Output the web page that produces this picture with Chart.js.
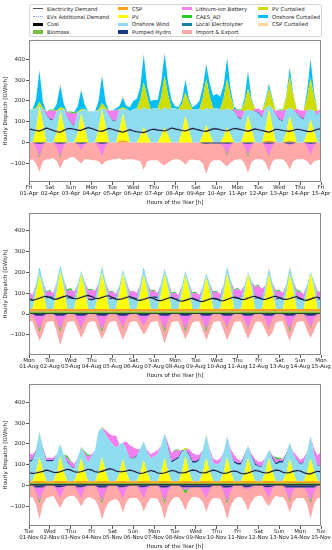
<!DOCTYPE html>
<html><head><meta charset="utf-8">
<script src="https://cdn.jsdelivr.net/npm/chart.js@4.4.1/dist/chart.umd.min.js"></script>
<style>
body{margin:0;width:332px;height:550px;background:#fff;position:relative;overflow:hidden;font-family:"DejaVu Sans",sans-serif;}
canvas{position:absolute;left:0;}
#legend{position:absolute;left:29px;top:4px;width:293px;height:33px;border:1px solid #d6d6d6;border-radius:2px;box-sizing:border-box;}
.lt{position:absolute;font-size:5.3px;line-height:6px;white-space:nowrap;color:#222;}
.lp{position:absolute;width:10px;height:3.5px;}
.ll{position:absolute;width:10px;height:0;}
</style></head>
<body>
<div id="legend"></div>
<canvas id="c1" width="332" height="170" style="top:36px"></canvas>
<canvas id="c2" width="332" height="170" style="top:209px"></canvas>
<canvas id="c3" width="332" height="170" style="top:380px"></canvas>
<script>
// ---------- categories / ticks ----------
const hours = Array.from({length:85},(_,i)=>i*4); // 4-hourly sampling grid, 0..336 h
const dayTickHours = [0,24,48,72,96,120,144,168,192,216,240,264,288,312,336];
const yTickVals = [-100,0,100,200,300,400];
const aprDays = ["Fri","Sat","Sun","Mon","Tue","Wed","Thu","Fri","Sat","Sun","Mon","Tue","Wed","Thu","Fri"];
const aprDates = ["01-Apr","02-Apr","03-Apr","04-Apr","05-Apr","06-Apr","07-Apr","08-Apr","09-Apr","10-Apr","11-Apr","12-Apr","13-Apr","14-Apr","15-Apr"];
const augDays = ["Mon","Tue","Wed","Thu","Fri","Sat","Sun","Mon","Tue","Wed","Thu","Fri","Sat","Sun","Mon"];
const augDates = ["01-Aug","02-Aug","03-Aug","04-Aug","05-Aug","06-Aug","07-Aug","08-Aug","09-Aug","10-Aug","11-Aug","12-Aug","13-Aug","14-Aug","15-Aug"];
const novDays = ["Tue","Wed","Thu","Fri","Sat","Sun","Mon","Tue","Wed","Thu","Fri","Sat","Sun","Mon","Tue"];
const novDates = ["01-Nov","02-Nov","03-Nov","04-Nov","05-Nov","06-Nov","07-Nov","08-Nov","09-Nov","10-Nov","11-Nov","12-Nov","13-Nov","14-Nov","15-Nov"];
const legendLabels = ["Electricity Demand","EVs Additional Demand","Coal","Biomass","CSP","PV","Onshore Wind","Pumped Hydro","Lithium-ion Battery","CAES_AD","Local Electrolyzer","Import & Export","PV Curtailed","Onshore Curtailed","CSP Curtailed"];

// ---------- APRIL (values every 4 h: 0,4,8,12,16,20 per day) ----------
const aprCsp = [
0,0,0,0,0,0, 0,0,0,0,0,0, 0,0,0,0,0,0, 0,0,0,5,0,0, 0,0,8,10,8,0, 0,0,0,0,0,0, 0,0,0,0,0,0,
0,0,0,0,0,0, 0,0,0,0,0,0, 0,0,0,0,0,0, 0,0,0,0,0,0, 0,0,8,10,8,0, 0,0,5,8,5,0, 0,0,0,0,0,0, 0];
const aprPV = [
0,0,60,175,90,0, 0,0,50,150,80,0, 0,0,45,140,70,0, 0,0,60,155,80,0, 0,0,50,130,60,0, 0,0,30,75,35,0, 0,0,30,75,35,0,
0,0,50,130,60,0, 0,0,35,85,40,0, 0,0,30,75,35,0, 0,0,50,130,65,0, 0,0,55,150,70,0, 0,0,45,120,60,0, 0,0,45,110,55,0, 0];
const aprWind = [
160,160,100,0,70,130, 110,105,100,5,80,120, 95,75,100,10,90,150, 150,150,90,5,80,130, 105,100,100,20,90,150, 160,165,125,95,125,160, 165,165,125,95,125,165,
165,160,105,30,95,160, 160,160,120,80,120,165, 165,160,125,90,120,150, 120,110,100,30,85,150, 140,120,100,20,85,130, 110,100,105,40,90,140, 120,110,110,50,95,130, 160];
const aprPhs = [
0,0,0,0,0,3, 4,4,0,0,0,3, 4,4,0,0,0,0, 0,0,0,0,0,3, 4,4,0,0,0,0, 0,0,0,0,0,0, 0,0,0,0,0,0,
0,0,0,0,0,0, 0,0,0,0,0,0, 0,0,0,0,0,3, 4,4,0,0,0,3, 4,4,0,0,0,3, 4,4,0,0,0,3, 4,4,0,0,0,3, 0];
const aprLi = [
0,0,0,0,0,15, 40,45,0,0,0,20, 45,60,0,0,0,0, 0,0,0,0,0,20, 45,50,0,0,0,0, 0,0,0,0,0,0, 0,0,0,0,0,0,
0,0,0,0,0,0, 0,0,0,0,0,0, 0,0,0,0,0,10, 30,40,0,0,0,10, 20,30,0,0,0,20, 40,50,0,0,0,20, 30,40,0,0,0,20, 0];
const aprCaes = [
0,0,0,0,0,0, 5,5,0,0,0,5, 5,8,0,0,0,0, 0,0,0,0,0,0, 0,0,0,0,0,0, 0,0,0,0,0,0, 0,0,0,0,0,0,
0,0,0,0,0,0, 0,0,0,0,0,0, 0,0,0,0,0,0, 5,5,0,0,0,0, 0,0,0,0,0,0, 5,5,0,0,0,0, 0,0,0,0,0,0, 0];
const aprPvCurt = [
0,0,5,20,5,0, 0,0,5,15,5,0, 0,0,3,10,3,0, 0,0,8,25,8,0, 0,0,3,10,3,0, 0,0,50,120,60,0, 0,0,60,150,70,0,
0,0,30,80,40,0, 0,0,60,140,60,0, 0,0,60,140,70,0, 0,0,40,100,50,0, 0,0,30,80,40,0, 0,0,60,150,70,0, 0,0,60,150,70,0, 0];
const aprWindCurt = [
0,0,40,150,30,0, 0,0,30,105,20,0, 0,0,25,90,20,0, 0,0,40,130,30,0, 0,10,15,45,15,20, 40,45,60,130,50,40, 40,40,70,105,60,40,
10,10,20,60,15,10, 20,40,50,70,60,60, 70,60,60,100,30,10, 0,0,20,80,10,0, 0,0,10,20,10,0, 0,0,10,40,10,0, 0,0,30,90,20,0, 0];
const aprCspCurt = [
0,0,3,9,5,0, 0,0,3,10,5,0, 0,0,3,10,5,0, 0,0,3,10,5,0, 0,0,3,10,5,0, 0,0,3,10,5,0, 0,0,3,10,5,0,
0,0,3,10,5,0, 0,0,3,10,5,0, 0,0,3,10,5,0, 0,0,3,10,5,0, 0,0,3,10,5,0, 0,0,3,10,5,0, 0,0,3,10,5,0, 0];
const aprExport = [
-85,-80,-100,-140,-90,-80, -80,-75,-90,-125,-85,-80, -70,-70,-85,-100,-80,-80, -85,-85,-90,-108,-90,-85, -80,-80,-75,-85,-80,-80, -80,-85,-90,-130,-90,-85, -85,-85,-100,-110,-95,-85,
-80,-80,-90,-105,-85,-80, -85,-85,-100,-150,-100,-85, -85,-85,-100,-115,-95,-85, -80,-80,-100,-145,-95,-80, -80,-80,-95,-138,-90,-80, -80,-80,-95,-130,-90,-80, -80,-80,-90,-110,-90,-85, -80];
const aprPhsCh = [
0,0,-4,-5,-4,0, 0,0,-4,-5,-4,0, 0,0,-4,-5,-4,0, 0,0,-4,-5,-4,0, 0,0,0,0,0,0, 0,0,0,0,0,0, 0,0,0,0,0,0,
0,0,0,0,0,0, 0,0,-4,-5,-4,-4, -4,-4,-4,-5,-4,0, 0,0,-4,-5,-4,0, 0,0,-4,-5,-4,0, 0,0,-4,-5,-4,0, 0,0,-4,-5,-4,0, 0];
const aprLiCh = [
0,0,-20,-60,-10,0, 0,0,-20,-60,-10,0, 0,0,-5,-30,-5,0, 0,0,-20,-60,-10,0, 0,0,0,0,0,0, 0,0,0,0,0,0, 0,0,0,0,0,0,
0,0,0,0,0,0, 0,0,0,0,0,0, 0,0,-15,-50,-10,0, 0,0,-15,-55,-10,0, 0,0,-20,-60,-10,0, 0,0,0,-10,0,0, 0,0,-15,-55,-10,0, 0];
const aprCaesCh = [
0,0,0,-8,0,0, 0,0,0,-8,0,0, 0,0,0,0,0,0, 0,0,0,0,0,0, 0,0,0,0,0,0, 0,0,0,0,0,0, 0,0,0,0,0,0,
0,0,0,0,0,0, 0,0,0,0,0,0, 0,0,0,-8,0,0, 0,0,0,-8,0,0, 0,0,0,-5,0,0, 0,0,0,0,0,0, 0,0,0,0,0,0, 0];
const aprDemand = [
66,62,58,55,62,70, 64,58,52,50,58,66, 68,64,60,58,66,72, 68,62,56,54,60,68, 64,58,54,50,56,62, 56,52,50,48,54,62, 64,60,58,56,62,70,
66,62,58,56,62,68, 64,60,56,54,60,66, 66,62,58,56,62,68, 66,62,58,54,60,66, 62,58,54,50,56,64, 62,58,56,54,58,64, 62,58,54,52,58,64, 66];
const aprEV = [
70,66,62,59,66,74, 68,62,56,54,62,70, 72,68,64,62,70,76, 72,66,60,58,64,72, 68,62,58,54,60,66, 60,56,54,52,58,66, 68,64,62,60,66,74,
70,66,62,60,66,72, 68,64,60,58,64,70, 70,66,62,60,66,72, 70,66,62,58,64,70, 66,62,58,54,60,68, 66,62,60,58,62,68, 66,62,58,56,62,68, 70];

// ---------- AUGUST ----------
const augCoal = [
4,4,4,4,4,4, 4,4,4,4,4,4, 4,4,4,4,4,4, 4,4,4,4,4,4, 4,4,4,4,4,4, 4,4,4,4,4,4, 4,4,4,4,4,4,
4,4,4,4,4,4, 4,4,4,4,4,4, 4,4,4,4,4,4, 4,4,4,4,4,4, 4,4,4,4,4,4, 4,4,4,4,4,4, 4,4,4,4,4,4, 4];
const augBio = [
8,8,8,8,8,8, 8,8,8,8,8,8, 8,8,8,8,8,8, 8,8,8,8,8,8, 8,8,8,8,8,8, 8,8,8,8,8,8, 8,8,8,8,8,8,
8,8,8,8,8,8, 8,8,8,8,8,8, 8,8,8,8,8,8, 8,8,8,8,8,8, 8,8,8,8,8,8, 8,8,8,8,8,8, 8,8,8,8,8,8, 8];
const augCsp = [
12,12,12,12,12,12, 12,12,12,12,12,12, 12,12,12,12,12,12, 12,12,12,12,12,12, 12,12,12,12,12,12, 12,12,12,12,12,12, 12,12,12,12,12,12,
12,12,12,12,12,12, 12,12,12,12,12,12, 12,12,12,12,12,12, 12,12,12,12,12,12, 12,12,12,12,12,12, 12,12,12,12,12,12, 12,12,12,12,12,12, 12];
const augPV = [
0,0,75,165,90,0, 0,0,85,185,100,0, 0,0,75,170,95,0, 0,0,80,175,95,0, 0,0,75,170,95,0, 0,0,75,165,90,0, 0,0,75,170,95,0,
0,0,75,165,90,0, 0,0,70,155,85,0, 0,0,75,170,95,0, 0,0,75,170,95,0, 0,0,75,165,90,0, 0,0,75,170,95,0, 0,0,80,175,95,0, 0];
const augWind = [
45,40,45,25,45,50, 55,50,50,28,45,50, 50,45,45,14,40,45, 40,45,45,30,40,45, 50,45,40,20,40,50, 50,45,45,25,45,50, 55,50,50,25,45,50,
45,40,40,20,40,45, 40,35,40,18,40,45, 45,40,45,35,45,50, 50,45,40,10,40,50, 50,45,40,30,40,45, 50,45,45,30,45,50, 45,40,40,6,40,45, 45];
const augPhs = [
8,8,0,0,0,6, 8,8,0,0,0,6, 8,8,0,0,0,6, 8,8,0,0,0,6, 8,8,0,0,0,6, 8,8,0,0,0,6, 8,8,0,0,0,6,
8,8,0,0,0,6, 8,8,0,0,0,6, 8,8,0,0,0,6, 8,8,0,0,0,6, 8,8,0,0,0,6, 8,8,0,0,0,6, 8,8,0,0,0,6, 8];
const augLi = [
30,20,0,0,0,25, 25,20,0,0,0,30, 35,30,0,0,0,40, 45,35,0,0,0,30, 25,20,0,0,0,25, 30,25,0,0,0,30, 25,20,0,0,0,20,
25,20,0,0,0,25, 30,25,0,0,0,30, 30,25,0,0,0,35, 40,35,0,0,0,50, 55,45,0,0,0,35, 30,25,0,0,0,30, 30,25,0,0,0,30, 30];
const augCaes = [
0,0,0,0,0,5, 5,0,0,0,0,8, 8,0,0,0,0,5, 5,0,0,0,0,5, 5,0,0,0,0,5, 0,0,0,0,0,5, 5,0,0,0,0,5,
5,0,0,0,0,5, 5,0,0,0,0,5, 5,0,0,0,0,5, 5,0,0,0,0,5, 5,0,0,0,0,5, 5,0,0,0,0,8, 5,0,0,0,0,5, 0];
const augPvCurt = [
0,0,0,0,0,0, 0,0,0,0,0,0, 0,0,0,0,0,0, 0,0,0,0,0,0, 0,0,0,0,0,0, 0,0,0,0,0,0, 0,0,0,0,0,0,
0,0,0,0,0,0, 0,0,0,0,0,0, 0,0,0,0,0,0, 0,0,0,0,0,0, 0,0,0,0,0,0, 0,0,0,0,0,0, 0,0,0,0,0,0, 0];
const augWindCurt = [
0,0,0,10,0,0, 0,0,0,0,0,0, 0,0,0,0,0,0, 0,0,0,0,0,0, 0,0,0,0,0,0, 0,0,0,10,0,0, 0,0,0,0,0,0,
0,0,0,0,0,0, 0,0,0,0,0,0, 0,0,0,0,0,0, 0,0,0,0,0,0, 0,0,0,0,0,0, 0,0,0,0,0,0, 0,0,0,0,0,0, 0];
const augCspCurt = [
0,0,0,0,0,0, 0,0,0,0,0,0, 0,0,0,0,0,0, 0,0,0,10,0,0, 0,0,0,0,0,0, 0,0,0,0,0,0, 0,0,0,0,0,0,
0,0,0,0,0,0, 0,0,0,0,0,0, 0,0,0,0,0,0, 0,0,0,0,0,0, 0,0,0,10,0,0, 0,0,0,10,0,0, 0,0,0,0,0,0, 0];
const augExport = [
-35,-35,-80,-130,-90,-40, -35,-35,-85,-150,-90,-40, -35,-35,-75,-115,-80,-40, -35,-35,-80,-120,-85,-40, -35,-35,-80,-125,-85,-40, -35,-35,-70,-100,-75,-40, -35,-35,-85,-140,-90,-40,
-35,-35,-80,-120,-85,-40, -35,-35,-80,-125,-85,-40, -35,-35,-80,-125,-85,-40, -35,-35,-80,-120,-85,-40, -35,-40,-80,-110,-90,-40, -35,-35,-85,-130,-85,-40, -35,-35,-80,-115,-80,-40, -35];
const augPhsCh = [
0,0,-8,-8,-8,0, 0,0,-8,-8,-8,0, 0,0,-8,-8,-8,0, 0,0,-8,-8,-8,0, 0,0,-8,-8,-8,0, 0,0,-8,-8,-8,0, 0,0,-8,-8,-8,0,
0,0,-8,-8,-8,0, 0,0,-8,-8,-8,0, 0,0,-8,-8,-8,0, 0,0,-8,-8,-8,0, 0,0,-8,-8,-8,0, 0,0,-8,-8,-8,0, 0,0,-8,-8,-8,0, 0];
const augLiCh = [
0,0,-25,-65,-20,0, 0,0,-25,-65,-20,0, 0,0,-25,-60,-20,0, 0,0,-25,-65,-20,0, 0,0,-20,-55,-15,0, 0,0,-20,-50,-15,0, 0,0,-25,-65,-20,0,
0,0,-25,-65,-20,0, 0,0,-25,-65,-20,0, 0,0,-20,-55,-15,0, 0,0,-20,-60,-15,0, 0,0,-20,-60,-15,0, 0,0,-25,-65,-20,0, 0,0,-20,-55,-15,0, 0];
const augCaesCh = [
0,0,0,-12,0,0, 0,0,0,-12,0,0, 0,0,0,-5,0,0, 0,0,0,-12,0,0, 0,0,0,-5,0,0, 0,0,0,0,0,0, 0,0,0,-12,0,0,
0,0,0,-12,0,0, 0,0,0,-12,0,0, 0,0,0,-5,0,0, 0,0,0,-5,0,0, 0,0,0,-5,0,0, 0,0,0,-12,0,0, 0,0,0,-5,0,0, 0];
const augDemand = [
72,66,70,76,82,86, 80,72,72,78,84,88, 82,74,74,80,86,90, 84,76,74,80,86,88, 80,72,70,74,80,84, 76,68,66,70,76,80, 74,66,64,70,76,80,
72,64,62,66,72,76, 70,62,60,66,72,76, 72,64,64,70,76,82, 78,70,70,76,82,86, 80,72,70,76,82,86, 80,72,70,74,80,84, 76,68,66,72,78,82, 74];
const augEV = [
76,70,74,80,87,92, 85,76,76,82,89,94, 87,78,78,84,91,96, 89,80,78,84,91,94, 85,76,74,78,85,90, 81,72,70,74,81,86, 79,70,68,74,81,86,
77,68,66,70,77,82, 75,66,64,70,77,82, 77,68,68,74,81,88, 83,74,74,80,87,92, 85,76,74,80,87,92, 85,76,74,78,85,90, 81,72,70,76,83,88, 78];

// ---------- NOVEMBER ----------
const novCoal = [
6,6,6,6,6,6, 6,6,6,6,6,6, 6,6,6,6,6,6, 6,6,6,6,6,6, 6,6,6,6,6,6, 6,6,6,6,6,6, 6,6,6,6,6,6,
6,6,6,6,6,6, 6,6,6,6,6,6, 6,6,6,6,6,6, 6,6,6,6,6,6, 6,6,6,6,6,6, 6,6,6,6,6,6, 6,6,6,6,6,6, 6];
const novBio = [
6,6,6,6,6,6, 6,6,6,6,6,6, 6,6,6,6,6,6, 6,6,6,6,6,6, 6,6,6,6,6,6, 6,6,6,6,6,6, 6,6,6,6,6,6,
6,6,6,6,6,6, 6,6,6,6,6,6, 6,6,6,6,6,6, 6,6,6,6,6,6, 6,6,6,6,6,6, 6,6,6,6,6,6, 6,6,6,6,6,6, 6];
const novCsp = [
8,8,10,10,10,8, 8,8,10,10,10,8, 8,8,10,10,10,8, 8,8,10,10,10,8, 8,8,10,10,10,8, 8,8,10,10,10,8, 8,8,10,10,10,8,
8,8,10,10,10,8, 8,8,10,10,10,8, 8,8,10,10,10,8, 8,8,10,10,10,8, 8,8,10,10,10,8, 8,8,10,10,10,8, 8,8,10,10,10,8, 8];
const novPV = [
0,0,40,115,45,0, 0,0,40,120,45,0, 0,0,40,110,45,0, 0,0,40,115,45,0, 0,0,35,105,40,0, 0,0,35,100,40,0, 0,0,40,110,45,0,
0,0,40,120,45,0, 0,0,40,110,45,0, 0,0,40,115,45,0, 0,0,40,110,45,0, 0,0,40,110,45,0, 0,0,35,105,40,0, 0,0,40,110,45,0, 0];
const novWind = [
90,100,100,120,110,95, 95,95,90,58,80,90, 70,60,70,55,80,90, 120,150,200,140,180,200, 180,160,140,80,110,110, 110,120,120,90,100,110, 120,130,130,120,110,90,
100,110,100,30,80,90, 90,100,110,110,100,90, 80,90,100,100,90,90, 80,80,80,60,70,80, 70,70,70,40,60,80, 90,90,90,80,90,100, 80,90,100,105,80,70, 80];
const novPhs = [
8,8,6,0,6,8, 8,8,0,0,0,4, 4,4,0,0,0,0, 0,0,0,0,0,0, 0,0,0,0,0,4, 4,4,0,0,0,0, 0,0,0,0,8,8,
8,8,6,0,8,8, 8,8,0,0,0,0, 0,0,0,0,0,8, 8,8,6,0,6,8, 4,4,0,0,8,8, 8,8,6,0,0,4, 4,4,0,0,0,4, 4];
const novLi = [
40,20,0,0,0,10, 10,10,0,0,0,20, 20,20,0,0,10,30, 10,0,0,0,20,30, 40,60,0,0,40,60, 50,30,0,0,10,20, 20,20,0,0,20,40,
40,30,0,0,20,40, 30,20,0,0,10,20, 20,20,0,0,20,30, 20,10,0,0,10,20, 20,20,0,0,10,20, 10,10,0,0,10,20, 20,20,0,0,30,50, 60];
const novCaes = [
0,0,0,0,0,0, 0,0,0,0,0,10, 5,0,0,0,8,8, 0,0,0,0,0,0, 0,0,0,0,0,0, 0,0,0,0,0,0, 0,0,0,0,0,0,
5,5,0,0,0,0, 0,0,0,0,0,0, 0,0,0,0,0,0, 0,0,0,0,0,0, 0,0,0,0,0,8, 5,0,0,0,0,0, 0,0,0,0,0,0, 0];
const novPvCurt = [
0,0,0,5,0,0, 0,0,0,0,0,0, 0,0,0,0,0,0, 0,0,0,5,0,0, 0,0,0,0,0,0, 0,0,0,0,0,0, 0,0,0,0,0,0,
0,0,0,10,0,0, 0,0,0,5,0,0, 0,0,0,0,0,0, 0,0,0,0,0,0, 0,0,0,0,0,0, 0,0,0,0,0,0, 0,0,0,0,0,0, 0];
const novWindCurt = [
0,0,0,0,0,0, 0,0,0,0,0,0, 0,0,0,0,0,0, 0,0,0,0,0,0, 0,0,0,0,0,0, 0,0,0,0,0,0, 0,0,0,0,0,0,
0,0,0,0,0,0, 0,0,0,0,0,0, 0,0,0,0,0,0, 0,0,0,0,0,0, 0,0,0,0,0,0, 0,0,0,0,0,0, 0,0,0,0,0,0, 0];
const novCspCurt = [
0,0,0,0,0,0, 0,0,0,0,0,0, 0,0,0,0,0,0, 0,0,0,0,0,0, 0,0,0,0,0,0, 0,0,0,0,0,0, 0,0,0,0,0,0,
0,0,0,0,0,0, 0,0,0,0,0,0, 0,0,0,0,0,0, 0,0,0,0,0,0, 0,0,0,0,0,0, 0,0,0,0,0,0, 0,0,0,0,0,0, 0];
const novExport = [
-60,-55,-90,-163,-90,-60, -55,-50,-80,-110,-70,-55, -50,-50,-70,-100,-70,-55, -60,-70,-100,-163,-110,-80, -70,-65,-80,-130,-80,-60, -60,-60,-80,-125,-85,-60, -60,-65,-100,-163,-100,-70,
-55,-55,-80,-120,-75,-55, -55,-60,-80,-125,-80,-60, -60,-65,-100,-163,-100,-70, -55,-55,-80,-120,-80,-55, -50,-50,-80,-100,-70,-50, -55,-55,-80,-130,-80,-60, -60,-60,-90,-160,-90,-60, -60];
const novPhsCh = [
0,0,-10,-10,-8,0, 0,0,-8,-8,-5,0, 0,0,-8,-8,-5,0, 0,0,-10,-10,-10,0, 0,0,-8,-8,-5,0, 0,0,-8,-8,-5,0, 0,0,-10,-10,-8,0,
0,0,-8,-8,-8,-8, -8,-8,-8,-8,-8,0, 0,0,-10,-10,-8,0, 0,0,-8,-8,-5,0, 0,0,-8,-8,-5,0, 0,0,-10,-10,-10,-10, -10,-10,-10,-10,-10,0, 0];
const novLiCh = [
0,0,-20,-65,-20,0, 0,0,-20,-55,-10,0, 0,0,-20,-55,-10,0, 0,0,-20,-65,-20,0, 0,0,-20,-55,-10,0, 0,0,-20,-55,-10,0, 0,0,-20,-65,-20,0,
0,0,-5,-15,-5,0, 0,0,-20,-55,-10,0, 0,0,-20,-65,-20,0, 0,0,-5,-10,-5,0, 0,0,-20,-55,-10,0, 0,0,-20,-60,-10,0, 0,0,-20,-65,-20,0, 0];
const novCaesCh = [
0,0,0,-10,0,0, 0,0,0,0,0,0, 0,0,0,0,0,0, 0,0,0,-10,0,0, 0,0,0,0,0,0, 0,0,0,0,0,0, 0,0,0,-10,0,0,
0,0,0,-15,0,0, 0,0,0,0,0,0, 0,0,0,-10,0,0, 0,0,0,0,0,0, 0,0,0,0,0,0, 0,0,0,-8,0,0, 0,0,0,-10,0,0, 0];
const novDemand = [
62,58,60,64,68,74, 70,64,62,66,72,78, 74,66,64,66,72,78, 74,66,64,68,74,80, 78,70,66,66,70,74, 70,62,58,60,66,72, 68,60,58,60,66,72,
70,62,60,62,68,74, 72,64,60,62,68,74, 70,62,58,60,66,70, 66,58,56,60,66,72, 70,64,60,62,68,74, 72,64,60,62,68,72, 70,62,56,56,62,68, 66];
const novEV = [
66,62,64,68,72,78, 74,68,66,70,76,82, 78,70,68,70,76,82, 78,70,68,72,78,84, 82,74,70,70,74,78, 74,66,62,64,70,76, 72,64,62,64,70,76,
74,66,64,66,72,78, 76,68,64,66,72,78, 74,66,62,64,70,74, 70,62,60,64,70,76, 74,68,64,66,72,78, 76,68,64,66,72,76, 74,66,60,60,66,72, 70];

// ---------- styles ----------
const colors = {
  demand:'#14182a', ev:'#8f9cff', coal:'#000000', bio:'#77c13a', csp:'#ff9f1a', pv:'#ffff00', wind:'#8edcf0',
  phs:'#1c3a86', li:'#f27ef0', caes:'#22d022', elec:'#167f9f', imp:'#ffa8a8', pvCurt:'#cfdd00', windCurt:'#00bff8', cspCurt:'#ffd699'
};
const legendKeys = ['demand','ev','coal','bio','csp','pv','wind','phs','li','caes','elec','imp','pvCurt','windCurt','cspCurt'];

const panels = [
  {id:'c1', days:aprDays, dates:aprDates, min:-189, max:491,
   pos:{coal:null,bio:null,csp:aprCsp,pv:aprPV,wind:aprWind,phs:aprPhs,li:aprLi,caes:aprCaes,pvCurt:aprPvCurt,windCurt:aprWindCurt,cspCurt:aprCspCurt},
   imp:aprExport, neg:{phs:aprPhsCh,li:aprLiCh,caes:aprCaesCh}, demand:aprDemand, ev:aprEV},
  {id:'c2', days:augDays, dates:augDates, min:-197, max:485,
   pos:{coal:augCoal,bio:augBio,csp:augCsp,pv:augPV,wind:augWind,phs:augPhs,li:augLi,caes:augCaes,pvCurt:augPvCurt,windCurt:augWindCurt,cspCurt:augCspCurt},
   imp:augExport, neg:{phs:augPhsCh,li:augLiCh,caes:augCaesCh}, demand:augDemand, ev:augEV},
  {id:'c3', days:novDays, dates:novDates, min:-195, max:487,
   pos:{coal:novCoal,bio:novBio,csp:novCsp,pv:novPV,wind:novWind,phs:novPhs,li:novLi,caes:novCaes,pvCurt:novPvCurt,windCurt:novWindCurt,cspCurt:novCspCurt},
   imp:novExport, neg:{phs:novPhsCh,li:novLiCh,caes:novCaesCh}, demand:novDemand, ev:novEV}
];

// ---------- legend ----------
(function(){
  const lg = document.getElementById('legend');
  const colX = [3, 88, 152, 228];
  const rowY = [3.7, 11.5, 19.3, 27];
  legendKeys.forEach((k,i)=>{
    const c = Math.floor(i/4), r = i%4;
    const x = colX[c], y = rowY[r];
    let h;
    if (k==='demand' || k==='ev') {
      h = document.createElement('div'); h.className='ll';
      h.style.left=x+'px'; h.style.top=(y-0.5)+'px';
      h.style.borderTop = k==='demand' ? '1px solid #555' : '1px dotted '+colors.ev;
    } else {
      h = document.createElement('div'); h.className='lp';
      h.style.left=x+'px'; h.style.top=(y-1.75)+'px'; h.style.background=colors[k];
    }
    lg.appendChild(h);
    const t = document.createElement('div'); t.className='lt';
    t.textContent = legendLabels[i];
    t.style.left=(x+14)+'px'; t.style.top=(y-3)+'px';
    lg.appendChild(t);
  });
})();

// ---------- charts ----------
const boxPlugin = {id:'box', afterDraw(c){const a=c.chartArea,ctx=c.ctx;ctx.save();ctx.strokeStyle='#8a8a8a';ctx.lineWidth=1;
  ctx.strokeRect(Math.round(a.left)+0.5,Math.round(a.top)+0.5,Math.round(a.right-a.left)-1,Math.round(a.bottom-a.top)-1);ctx.restore();}};
const posOrder = ['coal','bio','csp','pv','wind','phs','li','caes','pvCurt','windCurt','cspCurt'];
const negOrder = ['phs','li','caes'];
const FONT = {family:'"DejaVu Sans", sans-serif', size:5.5};

function pts(arr){ return hours.map((h,i)=>({x:h,y:arr[i]})); }

panels.forEach(p=>{
  const ds = [];
  ds.push({data:pts(p.imp), backgroundColor:colors.imp, borderWidth:0, pointRadius:0, fill:'origin', order:20});
  let cum = hours.map(()=>0), first = true;
  posOrder.forEach(k=>{
    const a = p.pos[k]; if(!a) return;
    cum = cum.map((c,i)=>c+a[i]);
    ds.push({data:pts(cum), backgroundColor:colors[k], borderColor:colors[k], borderWidth:0, pointRadius:0, fill: first?'origin':'-1', order:10});
    first = false;
  });
  let ncum = hours.map(()=>0); first = true;
  negOrder.forEach(k=>{
    const a = p.neg[k]; if(!a) return;
    ncum = ncum.map((c,i)=>c+a[i]);
    ds.push({data:pts(ncum), backgroundColor:colors[k], borderWidth:0, pointRadius:0, fill: first?'origin':'-1', order:5});
    first = false;
  });
  ds.push({data:pts(p.ev), borderColor:colors.ev, borderWidth:0.9, borderDash:[1.2,1.2], pointRadius:0, fill:false, order:1});
  ds.push({data:pts(p.demand), borderColor:colors.demand, borderWidth:1.1, pointRadius:0, fill:false, order:0});

  new Chart(document.getElementById(p.id), {
    type:'line',
    data:{datasets:ds},
    plugins:[boxPlugin],
    options:{
      responsive:false, animation:false, devicePixelRatio:1,
      elements:{line:{tension:0}},
      layout:{padding:{left:0,right:11,top:2,bottom:0}},
      plugins:{legend:{display:false}, tooltip:{enabled:false}},
      scales:{
        x:{type:'linear', min:0, max:336,
          afterBuildTicks:s=>{s.ticks = dayTickHours.map(v=>({value:v}));},
          afterFit:s=>{s.height=24;},
          ticks:{autoSkip:false, maxRotation:0, padding:0, color:'#222', font:{...FONT, lineHeight:1.1},
            callback:(v)=>{const i=Math.round(v/24); return [p.days[i], p.dates[i]];}},
          grid:{drawOnChartArea:false, drawTicks:true, tickLength:3, color:'#555'},
          border:{display:false},
          title:{display:true, text:'Hours of the Year [h]', color:'#222', font:FONT, padding:{top:0,bottom:0.5}}
        },
        y:{min:p.min, max:p.max,
          afterBuildTicks:s=>{s.ticks = yTickVals.map(v=>({value:v}));},
          afterFit:s=>{s.width=29;},
          ticks:{padding:1, color:'#222', font:FONT, callback:v=> v<0 ? '\u2212'+Math.abs(v) : String(v)},
          grid:{drawOnChartArea:false, drawTicks:true, tickLength:3, color:'#555'},
          border:{display:false},
          title:{display:true, text:'Hourly Dispatch [GWh/h]', color:'#222', font:FONT, padding:{top:2.5,bottom:0}}
        }
      }
    }
  });
});
</script>
</body></html>
